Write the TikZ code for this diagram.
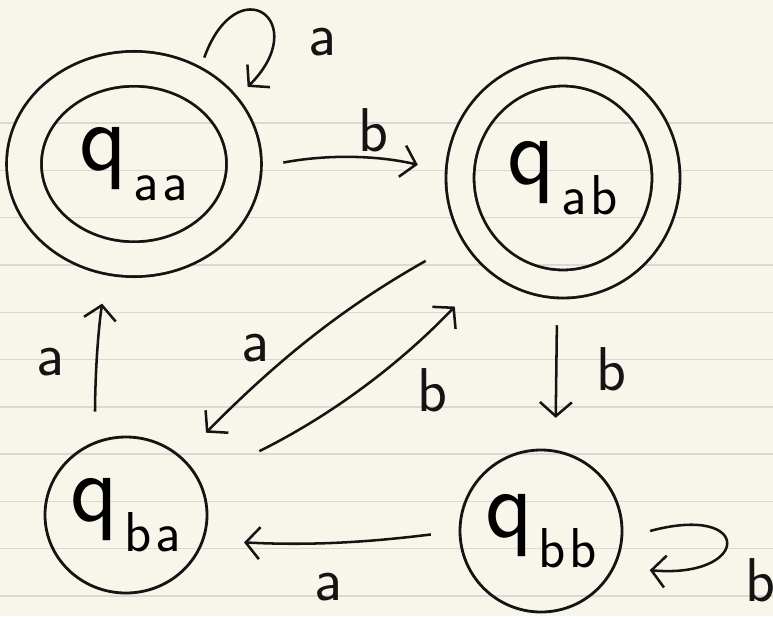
\documentclass[tikz,border=0pt]{standalone}
\usetikzlibrary{shapes.geometric, arrows.meta, positioning}
\definecolor{paper}{HTML}{F8F6EA}
\definecolor{ruling}{HTML}{D8D8D4}
\definecolor{ink}{HTML}{141414}
\newcommand{\qname}[2]{{\fontsize{70}{70}\selectfont q}\kern4pt\raisebox{-0.75cm}{\fontsize{40}{40}\selectfont #1\kern3pt#2}}

\begin{document}
\begin{tikzpicture}[
  state/.style={ellipse, draw=ink, line width=2pt, inner sep=0pt, font=\sffamily},
  accept/.style={state, double=paper, double distance=0.8cm},
  arrow/.style={draw=ink, line width=1.8pt, -{Straight Barb[length=3.5mm,width=8mm]}},
  lbl/.style={font=\sffamily\fontsize{44}{44}\selectfont, text=ink, inner sep=0pt}]

\useasboundingbox (0,0) rectangle (19.325,15.4);
\fill[paper] (0,0) rectangle (19.325,15.4);
\foreach \k in {0,...,10}
  \draw[ruling, line width=1pt] (0,0.5+1.1825*\k) -- (19.325,0.5+1.1825*\k);

\node[accept, minimum width=5.5cm, minimum height=4.76cm] (qaa) at (3.35,11.3) {\qname{a}{a}};
\node[accept, double distance=0.63cm, minimum width=5.15cm, minimum height=5.3cm] (qab) at (14.075,10.95) {\qname{a}{b}};
\node[state, minimum width=4.05cm, minimum height=3.9cm] (qba) at (3.15,2.525) {\qname{b}{a}};
\node[state, minimum width=4.05cm, minimum height=4.05cm] (qbb) at (13.525,2.125) {\qname{b}{b}};

\draw[arrow, shorten <=0.68cm, shorten >=0.78cm] (qaa.53) to[out=70, in=45, distance=3.1cm] (qaa.31);
\draw[arrow, shorten <=0.97cm, shorten >=1.05cm] (qaa.-3) to[bend left=12] (qab.178);
\draw[arrow, shorten <=1.38cm, shorten >=0.85cm] (qab.212) to[bend right=8] (qba.46);
\draw[arrow, shorten <=1.65cm, shorten >=1.55cm] (qba.25) to[bend right=10] (qab.232);
\draw[arrow, shorten <=1cm, shorten >=0.8cm] (qab.267) -- (qbb.80);
\draw[arrow, shorten <=0.7cm, shorten >=1cm] (qbb.180) to[bend left=5] (qba.-18);
\draw[arrow, shorten <=0.75cm, shorten >=1.15cm] (qba.113) to[bend left=4] (qaa.255);
\draw[arrow, shorten <=0.7cm, shorten >=0.87cm] (qbb.-5) to[out=15, in=-5, distance=3.4cm] (qbb.-26);

\node[lbl] (laa) at (8.05,14.35) {a};
\node[lbl] (lab) at (9.33,12.15) {b};
\node[lbl] (lba) at (6.375,6.7) {a};
\node[lbl] (lbb) at (10.8,5.65) {b};
\node[lbl] (lbd) at (15.28,6.18) {b};
\node[lbl] (lwa) at (8.2,0.73) {a};
\node[lbl] (lua) at (1.25,6.35) {a};
\node[lbl] (llb) at (19.0,0.9) {b};

\end{tikzpicture}
\end{document}
